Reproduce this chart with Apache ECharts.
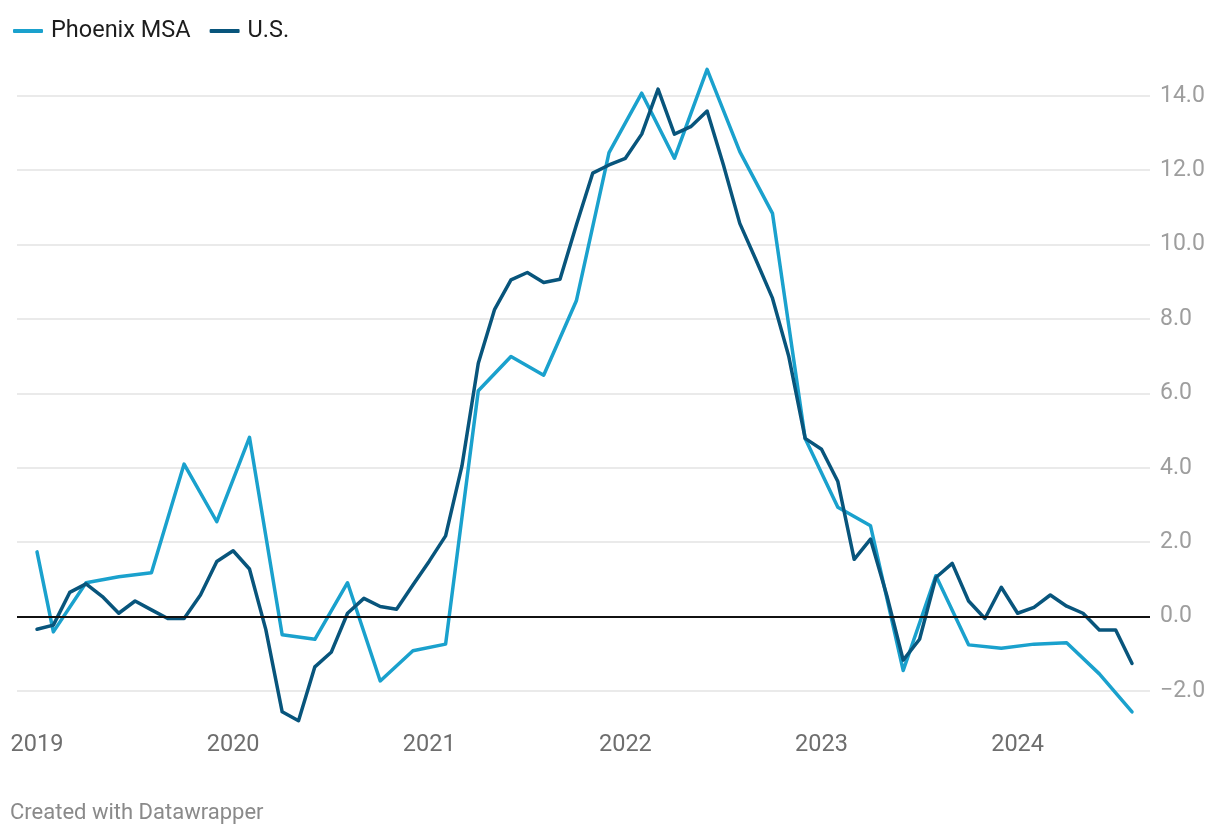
<!DOCTYPE html>
<html>
<head>
<meta charset="utf-8">
<script src="https://cdn.jsdelivr.net/npm/echarts@6/dist/echarts.min.js"></script>
<style>
  html, body { margin: 0; padding: 0; background: #fff; }
  #chart { width: 1220px; height: 836px; }
</style>
</head>
<body>
<div id="chart"></div>
<script>
// Month index 0 = Jan 2019
const yearLabels = ['2019', '2020', '2021', '2022', '2023', '2024'];
const yearTickMonths = [0, 12, 24, 36, 48, 60];
const yTickValues = [-2, 0, 2, 4, 6, 8, 10, 12, 14];

const usValues = [
  -0.34, -0.23, 0.65, 0.88, 0.54, 0.09, 0.42, 0.18, -0.05, -0.05, 0.58, 1.48,
  1.77, 1.28, -0.35, -2.56, -2.80, -1.35, -0.96, 0.09, 0.49, 0.27, 0.20, 0.85,
  1.49, 2.17, 4.05, 6.81, 8.26, 9.05, 9.25, 8.98, 9.07, 10.53, 11.92, 12.14,
  12.32, 12.97, 14.18, 12.97, 13.17, 13.59, 12.14, 10.57, 9.58, 8.56, 6.99, 4.79,
  4.50, 3.63, 1.54, 2.08, 0.56, -1.17, -0.61, 1.05, 1.43, 0.42, -0.05, 0.79,
  0.09, 0.25, 0.58, 0.28, 0.09, -0.36, -0.36, -1.26
];

const phoenixValues = [
  1.74, -0.41, null, 0.91, null, 1.07, null, 1.18, null, 4.10, null, 2.55,
  null, 4.82, null, -0.49, null, -0.61, null, 0.91, null, -1.73, null, -0.92,
  null, -0.74, null, 6.07, null, 6.99, null, 6.49, null, 8.49, null, 12.47,
  null, 14.07, null, 12.32, null, 14.71, null, 12.50, null, 10.84, null, 4.79,
  null, 2.94, null, 2.44, null, -1.45, null, 1.10, null, -0.76, null, -0.85,
  null, -0.74, null, -0.70, null, -1.54, null, -2.56
];

const toPairs = arr => arr.map((v, i) => [i, v]);

const chart = echarts.init(document.getElementById('chart'), null, { renderer: 'canvas' });
const FONT = 'Roboto, "Noto Sans", sans-serif';

chart.setOption({
  animation: false,
  backgroundColor: '#ffffff',
  textStyle: { fontFamily: FONT },
  legend: {
    left: 8,
    top: 14,
    itemWidth: 30,
    itemHeight: 4,
    itemGap: 19,
    icon: 'roundRect',
    textStyle: { fontSize: 23.5, color: '#1d1d1d', fontFamily: FONT, padding: [0, 0, 0, 3], lineHeight: 24 },
    data: ['Phoenix MSA', 'U.S.']
  },
  graphic: [{
    type: 'text',
    left: 10,
    top: 802,
    style: { text: 'Created with Datawrapper', fill: '#8a8a8a', font: '22px ' + FONT }
  }],
  grid: { left: 17, right: 70, top: 58.6, bottom: 107.8, containLabel: false },
  xAxis: {
    type: 'value',
    min: -1.225,
    max: 68.1,
    splitLine: { show: false },
    axisLine: { show: false },
    axisTick: { show: false },
    axisLabel: {
      customValues: yearTickMonths,
      formatter: v => yearLabels[yearTickMonths.indexOf(Math.round(v))] || '',
      fontSize: 23.5,
      color: '#6e6e6e',
      margin: 5,
      fontFamily: FONT
    }
  },
  yAxis: {
    type: 'value',
    position: 'right',
    min: -3,
    max: 15,
    axisLine: { show: false },
    axisTick: { show: false, customValues: yTickValues },
    splitLine: { show: true, lineStyle: { color: '#e3e3e3', width: 1.5 } },
    axisLabel: {
      customValues: yTickValues,
      formatter: v => (v < 0 ? '\u2212' : '') + Math.abs(v).toFixed(1),
      fontSize: 23,
      color: '#9e9e9e',
      margin: 10,
      align: 'left',
      fontFamily: FONT
    }
  },
  series: [
    {
      name: 'Phoenix MSA',
      type: 'line',
      data: toPairs(phoenixValues),
      connectNulls: true,
      showSymbol: false,
      symbol: 'none',
      color: '#1aa1cd',
      lineStyle: { width: 3.5, color: '#1aa1cd', join: 'round', cap: 'round' },
      markLine: {
        silent: true,
        symbol: ['none', 'none'],
        label: { show: false },
        lineStyle: { color: '#111111', width: 1.8, type: 'solid' },
        data: [{ yAxis: 0 }]
      }
    },
    {
      name: 'U.S.',
      type: 'line',
      data: toPairs(usValues),
      showSymbol: false,
      symbol: 'none',
      color: '#08557c',
      lineStyle: { width: 3.5, color: '#08557c', join: 'round', cap: 'round' }
    }
  ]
});
</script>
</body>
</html>
